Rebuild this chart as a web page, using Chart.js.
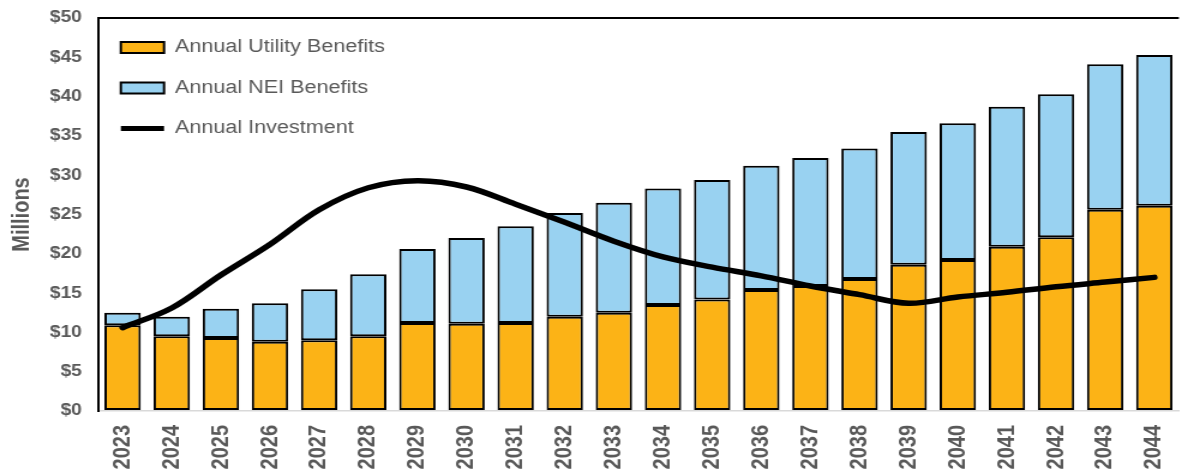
<!DOCTYPE html>
<html>
<head>
<meta charset="utf-8">
<script src="https://cdn.jsdelivr.net/npm/chart.js@4"></script>
<style>
  html, body { margin: 0; padding: 0; background: #fff; overflow: hidden; width: 1188px; height: 476px; }
  #wrap { width: 1000px; height: 476px; transform: scaleX(1.2); transform-origin: 0 0; }
</style>
</head>
<body>
<div id="wrap"><canvas id="c" width="1000" height="476"></canvas></div>
<script>
const years = ['2023','2024','2025','2026','2027','2028','2029','2030','2031','2032','2033',
               '2034','2035','2036','2037','2038','2039','2040','2041','2042','2043','2044'];
const utilityBenefits = [10.9, 9.5, 9.3, 8.8, 9.0, 9.5, 11.2, 11.1, 11.2, 12.0, 12.5,
                         13.5, 14.2, 15.4, 15.9, 16.8, 18.6, 19.2, 20.9, 22.1, 25.6, 26.1];
const neiBenefits = [1.6, 2.5, 3.7, 4.9, 6.5, 7.9, 9.4, 10.9, 12.3, 13.2, 14.0,
                     14.8, 15.2, 15.8, 16.3, 16.6, 16.9, 17.4, 17.8, 18.2, 18.5, 19.2];
const annualInvestment = [10.6, 13.1, 17.3, 21.2, 25.6, 28.4, 29.3, 28.5, 26.3, 24.0, 21.6,
                          19.6, 18.3, 17.2, 15.9, 14.8, 13.7, 14.5, 15.1, 15.8, 16.4, 17.0];
const yTicks = [0, 5, 10, 15, 20, 25, 30, 35, 40, 45, 50];

const GRAY = '#595959';
const FONT = '"Liberation Sans", Arial, sans-serif';

// place the in-plot legend relative to the plot area
const legendPlacer = {
  id: 'legendPlacer',
  afterLayout(chart) {
    const lg = chart.legend;
    if (!lg) return;
    lg.top += 16; lg.bottom += 16;
    lg.left -= 3.5; lg.right -= 3.5;
  }
};

const ctx = document.getElementById('c').getContext('2d');
new Chart(ctx, {
  data: {
    labels: years,
    datasets: [
      { type: 'bar', label: 'Annual Utility Benefits', data: utilityBenefits,
        backgroundColor: '#FCB316', borderColor: '#000', borderWidth: 2, borderSkipped: false,
        stack: 's', order: 1, barPercentage: 0.74, categoryPercentage: 1 },
      { type: 'bar', label: 'Annual NEI Benefits', data: neiBenefits,
        backgroundColor: '#99D2F1', borderColor: '#000', borderWidth: 2, borderSkipped: false,
        stack: 's', order: 1, barPercentage: 0.74, categoryPercentage: 1 },
      { type: 'line', label: 'Annual Investment', data: annualInvestment,
        borderColor: '#000', backgroundColor: '#000', borderWidth: 5.5, tension: 0.35,
        pointRadius: 0, pointHoverRadius: 0, order: 0, borderCapStyle: 'round', borderJoinStyle: 'round' }
    ]
  },
  plugins: [legendPlacer],
  options: {
    responsive: false,
    animation: false,
    devicePixelRatio: 1,
    layout: { padding: { top: 18, right: 4, left: 0, bottom: 0 } },
    plugins: {
      tooltip: { enabled: false },
      legend: {
        position: 'chartArea',
        align: 'start',
        labels: {
          usePointStyle: true,
          pointStyleWidth: 36,
          boxWidth: 36,
          boxHeight: 11,
          padding: 22.5,
          color: GRAY,
          font: { family: FONT, size: 18 },
          generateLabels: (chart) => chart.data.datasets.map((ds, i) => ({
            text: ds.label,
            fillStyle: ds.backgroundColor,
            strokeStyle: '#000',
            lineWidth: ds.type === 'line' ? 5 : 2,
            pointStyle: ds.type === 'line' ? 'line' : 'rect',
            hidden: false,
            datasetIndex: i,
            fontColor: GRAY
          }))
        }
      }
    },
    scales: {
      x: {
        stacked: true,
        grid: { display: false, drawTicks: false },
        border: { color: '#D9D9D9', width: 1.5 },
        ticks: { color: GRAY, font: { family: FONT, size: 20, weight: 'bold' },
                 minRotation: 90, maxRotation: 90, padding: 14, autoSkip: false },
        afterFit: (s) => { s.height = 65; }
      },
      y: {
        stacked: true,
        min: 0, max: 50,
        afterBuildTicks: (s) => { s.ticks = yTicks.map(v => ({ value: v })); },
        grid: { drawTicks: true, tickLength: 9.5, tickColor: 'rgba(0,0,0,0)', lineWidth: 2,
                color: (c) => (c.tick && c.tick.value === 50) ? '#000' : 'rgba(0,0,0,0)' },
        border: { color: '#000', width: 2 },
        ticks: { color: GRAY, font: { family: FONT, size: 16, weight: 'bold' }, padding: 4,
                 callback: (v) => '$' + v },
        title: { display: true, text: 'Millions', color: GRAY,
                 font: { family: FONT, size: 20, weight: 'bold' }, padding: { top: 6, bottom: 0 } },
        afterFit: (s) => { s.width = 81.7; }
      }
    }
  }
});
</script>
</body>
</html>
